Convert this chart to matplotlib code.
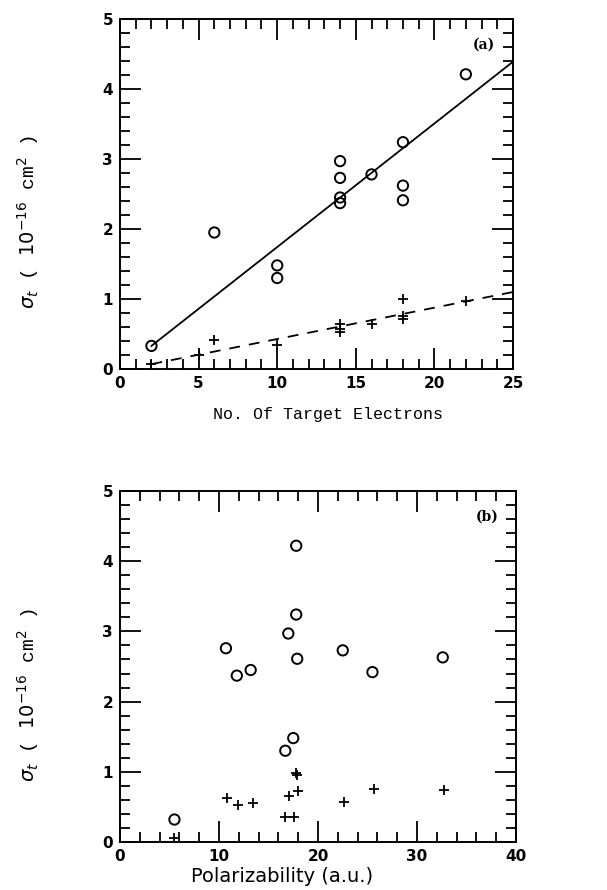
import matplotlib
matplotlib.use("Agg")
import matplotlib.pyplot as plt
from matplotlib.ticker import MultipleLocator

# (a) cross section vs number of target electrons
elec_circ_x = [2, 6, 10, 10, 14, 14, 14, 14, 16, 18, 18, 18, 22]
elec_circ_y = [0.33, 1.95, 1.48, 1.30, 2.97, 2.73, 2.45, 2.37, 2.78, 3.24, 2.62, 2.41, 4.21]
elec_plus_x = [2, 5, 6, 10, 14, 14, 14, 16, 18, 18, 18, 22]
elec_plus_y = [0.07, 0.20, 0.42, 0.35, 0.65, 0.57, 0.53, 0.64, 1.00, 0.76, 0.72, 0.97]
fit_solid_x = [2, 25]
fit_solid_y = [0.33, 4.39]
fit_dash_x = [2, 25]
fit_dash_y = [0.07, 1.10]

# (b) cross section vs polarizability
pol_circ_x = [5.5, 10.7, 11.8, 13.2, 16.7, 17.0, 17.5, 17.8, 17.8, 17.9, 22.5, 25.5, 32.6]
pol_circ_y = [0.32, 2.76, 2.37, 2.45, 1.30, 2.97, 1.48, 4.22, 3.24, 2.61, 2.73, 2.42, 2.63]
pol_plus_x = [5.5, 10.8, 11.9, 13.4, 16.7, 17.6, 17.1, 17.8, 17.9, 18.0, 22.6, 25.7, 32.7]
pol_plus_y = [0.06, 0.62, 0.52, 0.55, 0.36, 0.35, 0.65, 0.99, 0.96, 0.72, 0.57, 0.75, 0.74]

fig = plt.figure(figsize=(6.07, 8.90), dpi=100)
W, H = 607, 890
ax1 = fig.add_axes([120 / W, 1 - 369 / H, 393 / W, 350 / H])
ax2 = fig.add_axes([120 / W, 1 - 842 / H, 396 / W, 351 / H])

ylab = r'$\sigma_t$ ( $10^{-16}$ cm$^2$ )'


def style(ax, xmaj, xmin, xmax):
    ax.set_ylim(0, 5)
    ax.set_xlim(0, xmax)
    ax.xaxis.set_major_locator(MultipleLocator(xmaj))
    ax.xaxis.set_minor_locator(MultipleLocator(xmin))
    ax.yaxis.set_major_locator(MultipleLocator(1))
    ax.yaxis.set_minor_locator(MultipleLocator(0.2))
    ax.tick_params(which='both', direction='in', top=True, right=True, width=1.3)
    ax.tick_params(which='major', length=15, pad=5)
    ax.tick_params(which='minor', length=7)
    for s in ax.spines.values():
        s.set_linewidth(1.4)
    for lab in ax.get_xticklabels() + ax.get_yticklabels():
        lab.set_fontweight('bold')
        lab.set_fontsize(11)
    ax.set_ylabel(ylab, fontsize=14, family='Liberation Mono')
    ax.yaxis.set_label_coords(-0.2, 0.42)


style(ax1, 5, 1, 25)
ax1.plot(fit_solid_x, fit_solid_y, color='black', lw=1.3)
ax1.plot(fit_dash_x, fit_dash_y, color='black', lw=1.3, dashes=(6, 5))
ax1.scatter(elec_circ_x, elec_circ_y, s=55, facecolors='none', edgecolors='black', linewidths=1.4, zorder=3)
ax1.scatter(elec_plus_x, elec_plus_y, s=50, marker='+', color='black', linewidths=1.3, zorder=3)
ax1.text(0.955, 0.915, '(a)', transform=ax1.transAxes, ha='right', fontsize=10,
         family='DejaVu Serif', weight='bold')
ax1.set_xlabel('No. Of Target Electrons', fontsize=12, family='Liberation Mono')
ax1.xaxis.set_label_coords(0.53, -0.11)

style(ax2, 10, 2, 40)
ax2.scatter(pol_circ_x, pol_circ_y, s=55, facecolors='none', edgecolors='black', linewidths=1.4, zorder=3)
ax2.scatter(pol_plus_x, pol_plus_y, s=50, marker='+', color='black', linewidths=1.3, zorder=3)
ax2.text(0.955, 0.915, '(b)', transform=ax2.transAxes, ha='right', fontsize=10,
         family='DejaVu Serif', weight='bold')
ax2.set_xlabel('Polarizability (a.u.)', fontsize=14, family='DejaVu Sans')
ax2.xaxis.set_label_coords(0.41, -0.07)

fig.savefig('out.png', dpi=100)
